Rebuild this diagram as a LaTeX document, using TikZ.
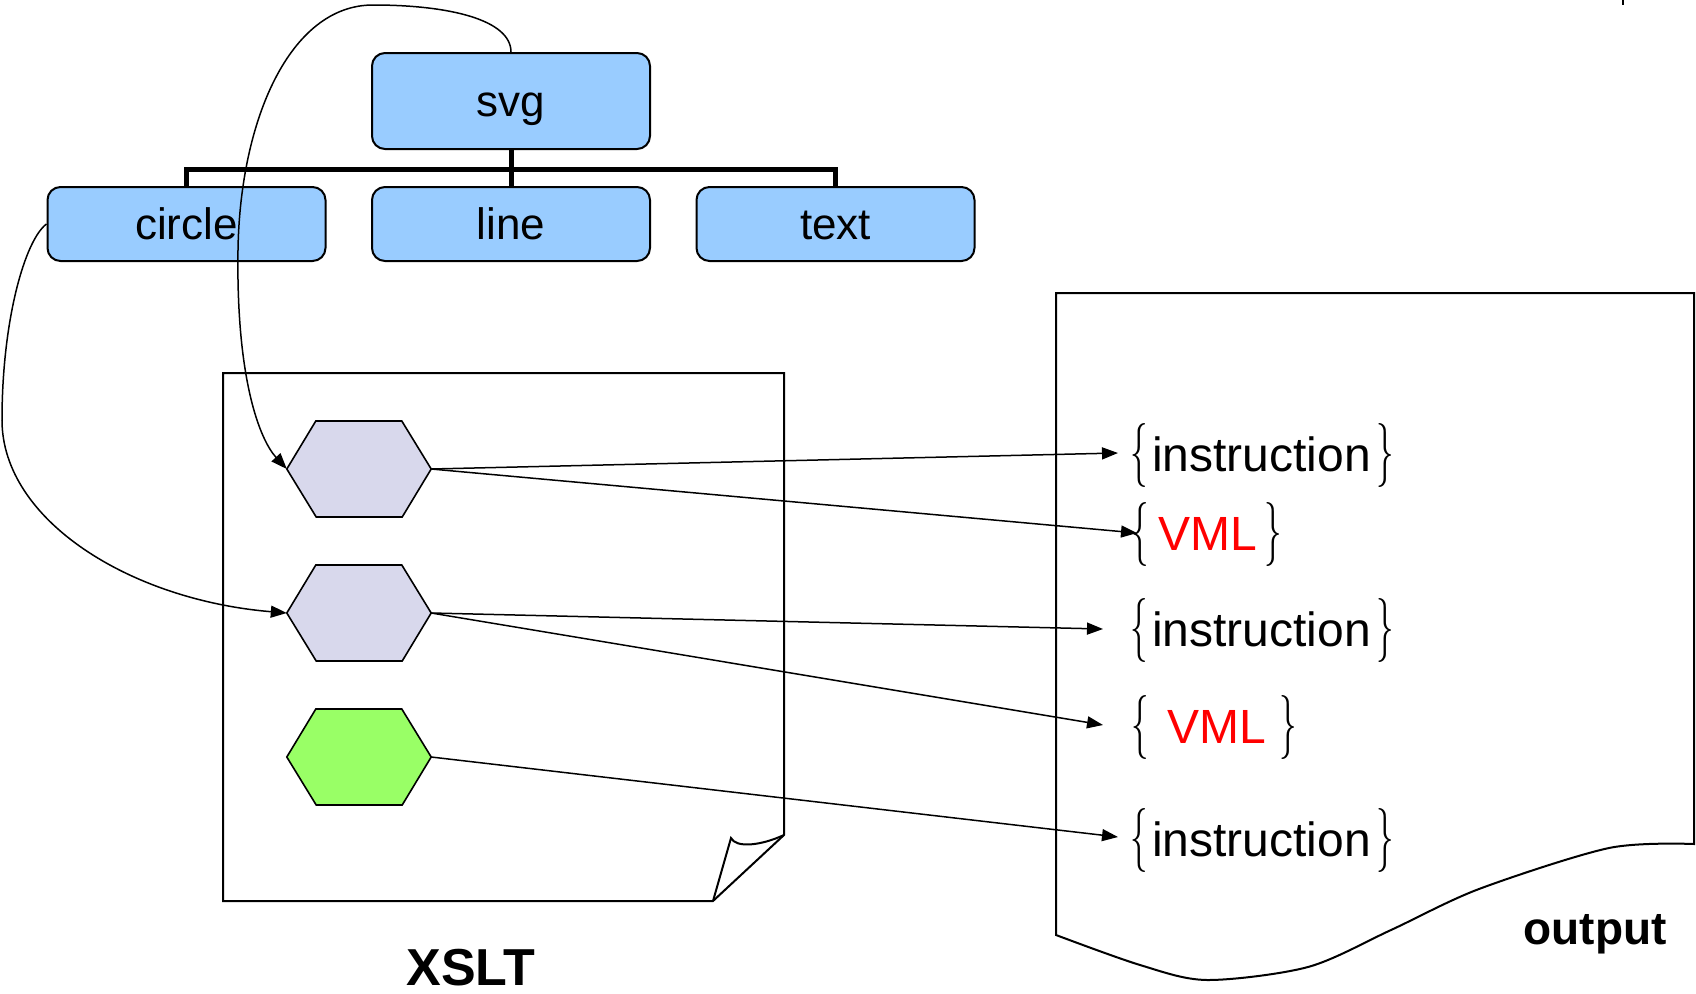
\documentclass[tikz,border=0pt]{standalone}
\usepackage{fontspec}
\setmainfont{Liberation Sans}
\usepackage{graphicx}
\usetikzlibrary{arrows.meta}
\definecolor{boxblue}{HTML}{99CCFF}
\definecolor{hexlav}{HTML}{D8D8EC}
\definecolor{hexgreen}{HTML}{99FF66}
\definecolor{vmlred}{HTML}{FF0000}
\newcommand{\mylbr}{\scalebox{3.5}[6.4]{$\{$}}
\newcommand{\myrbr}{\scalebox{3.5}[6.4]{$\}$}}
\begin{document}
\begin{tikzpicture}[x=1pt,y=-1pt,
  treebox/.style={draw=black, line width=2pt, fill=boxblue, rounded corners=13pt,
    minimum width=278pt, inner sep=0pt, font=\fontsize{44}{50}\selectfont,
    text height=33pt, text depth=3pt},
  hexbox/.style={minimum width=144pt, minimum height=96pt, inner sep=0pt},
  hexline/.style={draw=black, line width=1.6pt, line join=miter},
  conn/.style={line width=1.5pt, -{Triangle[length=16pt,width=12pt]}},
  tree/.style={line width=5pt, line join=miter},
  page/.style={draw=black, line width=2pt, line join=miter},
  bracenode/.style={anchor=base, inner sep=0pt, font=\fontsize{10}{12}\selectfont},
  instr/.style={anchor=base west, inner sep=0pt, font=\fontsize{48}{54}\selectfont},
  vml/.style={instr, text=vmlred},
  biglabel/.style={anchor=base, inner sep=0pt, font=\bfseries}
]
\useasboundingbox (0,0) rectangle (1696,993);

% pages
\draw[page] (223,373) -- (784,373) -- (784,835) -- (713,901) -- (223,901) -- cycle;
\draw[page] (713,901) -- (731,838) .. controls (736,848) and (760,846) .. (784,835);
\draw[page] plot[smooth, tension=0.5] coordinates {(1694,844) (1609,848) (1479,889) (1391,930) (1308,967) (1207,980) (1140,965) (1056,935)}
  -- (1056,293) -- (1694,293) -- cycle;

% tree
\node[treebox, minimum height=96pt] (svg) at (511,101) {svg};
\node[treebox, minimum height=74pt] (circle) at (186.5,224) {circle};
\node[treebox, minimum height=74pt] (line) at (511,224) {line};
\node[treebox, minimum height=74pt] (text) at (835.5,224) {text};
\coordinate (bar) at (511,169);
\draw[tree] (svg.south) -- (line.north);
\draw[tree] (circle.north) |- (bar) -| (text.north);

% hexagons
\node[hexbox] (h1) at (359,469) {};
\node[hexbox] (h2) at (359,613) {};
\node[hexbox] (h3) at (359,757) {};
\draw[hexline, fill=hexlav] (h1.west) -- ++(29,-48) -- ++(86,0) -- (h1.east) -- ++(-29,48) -- ++(-86,0) -- cycle;
\draw[hexline, fill=hexlav] (h2.west) -- ++(29,-48) -- ++(86,0) -- (h2.east) -- ++(-29,48) -- ++(-86,0) -- cycle;
\draw[hexline, fill=hexgreen] (h3.west) -- ++(29,-48) -- ++(86,0) -- (h3.east) -- ++(-29,48) -- ++(-86,0) -- cycle;

% output lines
\node[bracenode] (b1l) at (1139,471) {\mylbr};
\node[instr] (i1) at (1152,471) {instruction};
\node[bracenode] (b1r) at (1385,471) {\myrbr};

\node[bracenode] (b2l) at (1140,550) {\mylbr};
\node[vml] (i2) at (1158,550) {VML};
\node[bracenode] (b2r) at (1273.5,550) {\myrbr};

\node[bracenode] (b3l) at (1139,646.5) {\mylbr};
\node[instr] (i3) at (1152,646.5) {instruction};
\node[bracenode] (b3r) at (1385,646.5) {\myrbr};

\node[bracenode] (b4l) at (1140,743) {\mylbr};
\node[vml] (i4) at (1167,743) {VML};
\node[bracenode] (b4r) at (1288.5,743) {\myrbr};

\node[bracenode] (b5l) at (1139,856.5) {\mylbr};
\node[instr] (i5) at (1152,856.5) {instruction};
\node[bracenode] (b5r) at (1385,856.5) {\myrbr};

% arrow targets
\coordinate (t1) at (1118,453);
\coordinate (t2) at (1137,533);
\coordinate (t3) at (1103,629);
\coordinate (t4) at (1103,725);
\coordinate (t5) at (1118,837);
\draw[conn] (h1.east) -- (t1);
\draw[conn] (h1.east) -- (t2);
\draw[conn] (h2.east) -- (t3);
\draw[conn] (h2.east) -- (t4);
\draw[conn] (h3.east) -- (t5);

% curved connectors
\draw[conn] (svg.north) .. controls (511,20) and (450,5) .. (373,5)
  .. controls (290,5) and (240,120) .. (238,250)
  .. controls (236,380) and (260,440) .. (h1.west);
\draw[conn] (circle.west) .. controls (25,240) and (2,320) .. (2,420)
  .. controls (2,520) and (130,600) .. (h2.west);

% labels
\node[biglabel, font=\fontsize{52}{58}\selectfont\bfseries] (xslt) at (471,985) {XSLT};
\node[biglabel, font=\fontsize{46}{52}\selectfont\bfseries] (outp) at (1595,944) {output};

% small tick at top right
\coordinate (tk1) at (1623,0);
\coordinate (tk2) at (1623,5);
\draw[line width=2pt] (tk1) -- (tk2);
\end{tikzpicture}
\end{document}
